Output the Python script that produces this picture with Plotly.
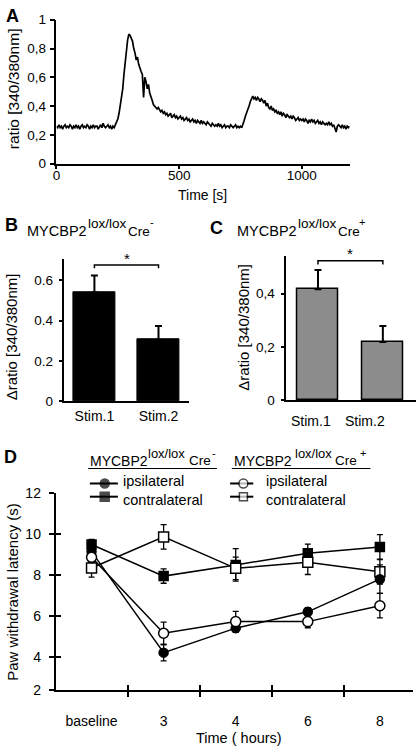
import plotly.graph_objects as go

W, H = 416, 753
FONT = "Liberation Sans, Arial, Helvetica, sans-serif"


def px(x):
    return x / W


def py(y):
    return 1 - y / H


# ---------------- Panel A: calcium trace ----------------
time_s = list(range(0, 1200, 5))
ratio = [
    0.26, 0.25, 0.27, 0.25, 0.26, 0.24, 0.26, 0.27, 0.25, 0.26,
    0.25, 0.27, 0.26, 0.24, 0.26, 0.25, 0.27, 0.25, 0.26, 0.24,
    0.26, 0.27, 0.25, 0.26, 0.25, 0.27, 0.26, 0.24, 0.26, 0.25,
    0.27, 0.25, 0.26, 0.26, 0.24, 0.26, 0.27, 0.25, 0.28, 0.26,
    0.25, 0.26, 0.27, 0.25, 0.26, 0.24, 0.26, 0.25, 0.27, 0.28,
    0.31, 0.35, 0.40, 0.47, 0.52, 0.62, 0.72, 0.80, 0.86, 0.90,
    0.89, 0.87, 0.85, 0.80, 0.77, 0.72, 0.74, 0.69, 0.66, 0.64,
    0.62, 0.46, 0.60, 0.57, 0.52, 0.55, 0.49, 0.47, 0.44, 0.41,
    0.40, 0.39, 0.38, 0.39, 0.37, 0.36, 0.37, 0.35, 0.36, 0.34,
    0.35, 0.33, 0.34, 0.35, 0.32, 0.33, 0.34, 0.32, 0.33, 0.31,
    0.32, 0.33, 0.31, 0.32, 0.30, 0.31, 0.32, 0.30, 0.31, 0.29,
    0.30, 0.31, 0.29, 0.30, 0.28, 0.30, 0.29, 0.28, 0.30, 0.28,
    0.29, 0.28, 0.27, 0.29, 0.28, 0.27, 0.26, 0.28, 0.27, 0.26,
    0.27, 0.26, 0.28, 0.26, 0.27, 0.25, 0.26, 0.27, 0.25, 0.26,
    0.26, 0.25, 0.27, 0.26, 0.25, 0.26, 0.27, 0.25, 0.26, 0.25,
    0.26, 0.25, 0.27, 0.30, 0.33, 0.35, 0.37, 0.40, 0.43, 0.45,
    0.47, 0.45, 0.46, 0.44, 0.46, 0.45, 0.43, 0.45, 0.44, 0.42,
    0.44, 0.40, 0.42, 0.39, 0.38, 0.40, 0.37, 0.38, 0.36, 0.37,
    0.35, 0.36, 0.34, 0.36, 0.33, 0.35, 0.34, 0.32, 0.34, 0.33,
    0.32, 0.33, 0.31, 0.33, 0.32, 0.30, 0.31, 0.32, 0.30, 0.31,
    0.30, 0.31, 0.29, 0.31, 0.30, 0.28, 0.30, 0.29, 0.31, 0.29,
    0.30, 0.28, 0.29, 0.30, 0.28, 0.29, 0.27, 0.29, 0.28, 0.27,
    0.28, 0.27, 0.29, 0.27, 0.28, 0.26, 0.27, 0.25, 0.22, 0.26,
    0.27, 0.26, 0.25, 0.27, 0.25, 0.26, 0.24, 0.26, 0.25, 0.26,
]
a_yticks = [0, 0.2, 0.4, 0.6, 0.8, 1.0]
a_yticktext = ["0", "0,2", "0,4", "0,6", "0,8", "1"]
a_xticks = [0, 500, 1000]

# ---------------- Panels B / C: delta ratio bars ----------------
stim_labels = ["Stim.1", "Stim.2"]
creneg_delta = [0.539, 0.305]
creneg_delta_err = [0.085, 0.068]
crepos_delta = [0.417, 0.218]
crepos_delta_err = [0.072, 0.060]
b_yticks = [0, 0.2, 0.4, 0.6]
b_yticktext = ["0", "0.2", "0.4", "0.6"]
c_yticks = [0, 0.2, 0.4]
c_yticktext = ["0", "0,2", "0,4"]

# ---------------- Panel D: paw withdrawal latency ----------------
time_labels = ["baseline", "3", "4", "6", "8"]
creneg_ipsi = [9.15, 4.2, 5.4, 6.2, 7.8]
creneg_ipsi_err = [0.3, 0.4, 0.2, 0.2, 0.7]
creneg_contra = [9.5, 7.95, 8.5, 9.07, 9.38]
creneg_contra_err = [0.25, 0.35, 0.8, 0.45, 0.6]
crepos_ipsi = [8.87, 5.15, 5.72, 5.72, 6.5]
crepos_ipsi_err = [0.25, 0.55, 0.5, 0.3, 0.6]
crepos_contra = [8.35, 9.87, 8.33, 8.63, 8.16]
crepos_contra_err = [0.45, 0.6, 0.55, 0.6, 0.6]
d_ybottom = 2.36
d_yticks = [d_ybottom, 4, 6, 8, 10, 12]
d_yticktext = ["2", "4", "6", "8", "10", "12"]
legend_labels = ["ipsilateral", "contralateral"]

fig = go.Figure()

# Panel A trace
fig.add_trace(go.Scatter(x=time_s, y=ratio, mode="lines",
                         line=dict(color="black", width=1.7),
                         xaxis="x", yaxis="y", showlegend=False))

# Panel B bars
xpos = list(range(len(stim_labels)))
fig.add_trace(go.Bar(x=xpos, y=creneg_delta, width=0.66,
                     marker=dict(color="black", line=dict(color="black", width=1)),
                     error_y=dict(type="data", symmetric=False, array=creneg_delta_err,
                                  arrayminus=[0] * len(xpos), color="black",
                                  thickness=2, width=3.5),
                     xaxis="x2", yaxis="y2", showlegend=False))

# Panel C bars
fig.add_trace(go.Bar(x=xpos, y=crepos_delta, width=0.64,
                     marker=dict(color="#8c8c8c", line=dict(color="black", width=1.5)),
                     error_y=dict(type="data", symmetric=False, array=crepos_delta_err,
                                  arrayminus=[0] * len(xpos), color="black",
                                  thickness=2, width=3.5),
                     xaxis="x3", yaxis="y3", showlegend=False))

# Panel D series
tpos = list(range(len(time_labels)))
series = [
    (creneg_contra, creneg_contra_err, "square", "black", 9),
    (crepos_contra, crepos_contra_err, "square", "white", 10),
    (creneg_ipsi, creneg_ipsi_err, "circle", "black", 9),
    (crepos_ipsi, crepos_ipsi_err, "circle", "white", 10),
]
for vals, errs, sym, fill, size in series:
    fig.add_trace(go.Scatter(
        x=tpos, y=vals, mode="lines+markers",
        line=dict(color="black", width=1.5),
        marker=dict(symbol=sym, size=size, color=fill,
                    line=dict(color="black", width=1.5)),
        error_y=dict(type="data", array=errs, color="black", thickness=1.3, width=3),
        xaxis="x4", yaxis="y4", showlegend=False))

# dummy trace for overlay tick axes
fig.add_trace(go.Scatter(x=[None], y=[None], xaxis="x5", yaxis="y5",
                         showlegend=False, hoverinfo="skip"))

# Legend symbols (drawn on a pixel-space helper axis)
leg_rows = [
    (86.7, 101.7, 115.0, 485.8, "circle", "black", 9),
    (86.7, 101.7, 115.0, 499.3, "square", "black", 9),
    (228.3, 241.7, 251.7, 485.8, "circle", "white", 9),
    (228.3, 241.7, 251.7, 499.3, "square", "white", 8),
]
for x0, xm, x1, yy, sym, fill, size in leg_rows:
    fig.add_trace(go.Scatter(
        x=[x0, xm, x1], y=[yy, yy, yy], mode="lines+markers",
        line=dict(color="black", width=2),
        marker=dict(symbol=sym, size=[0, size, 0], color=fill,
                    line=dict(color="black", width=[0, 1.5, 0])),
        xaxis="x6", yaxis="y6", showlegend=False, hoverinfo="skip"))

axis_common = dict(showline=True, linecolor="black", linewidth=1.5,
                   showgrid=False, zeroline=False, tickcolor="black",
                   tickwidth=1.5, tickfont=dict(family=FONT, size=13.5, color="black"))
f14 = dict(family=FONT, size=14, color="black")

layout = dict(
    width=W, height=H, margin=dict(l=0, r=0, t=0, b=0),
    paper_bgcolor="white", plot_bgcolor="rgba(0,0,0,0)",
    font=dict(family=FONT, color="black"),
    showlegend=False, bargap=0,
    xaxis=dict(domain=[px(53), px(349)], range=[0, 1195], anchor="y",
               tickvals=a_xticks, ticks="outside", ticklen=4,
               ticklabelstandoff=-6, **axis_common),
    yaxis=dict(domain=[py(159), py(12)], range=[0, 1], anchor="x",
               tickvals=a_yticks, ticktext=a_yticktext, ticks="outside",
               ticklen=5, ticklabelstandoff=1, **axis_common),
    xaxis2=dict(domain=[px(61), px(187)], range=[-0.468, 1.479], anchor="y2",
                tickvals=xpos, ticktext=stim_labels, ticks="",
                ticklabelstandoff=1, **{**axis_common, "tickfont": f14}),
    yaxis2=dict(domain=[py(401.8), py(256.7)], range=[0, 0.704], anchor="x2",
                tickvals=b_yticks, ticktext=b_yticktext, ticks="outside",
                ticklen=4, ticklabelstandoff=3, **axis_common),
    xaxis3=dict(domain=[px(285), 1.0], range=[-0.489, 1.511], anchor="y3",
                showticklabels=False, ticks="", **axis_common),
    yaxis3=dict(domain=[py(400.5), py(253.3)], range=[0, 0.542], anchor="x3",
                tickvals=c_yticks, ticktext=c_yticktext, ticks="outside",
                ticklen=4, ticklabelstandoff=3, **axis_common),
    xaxis4=dict(domain=[px(52), px(413)], range=[-0.5, 4.46], anchor="y4",
                tickvals=tpos, ticktext=time_labels, ticks="",
                ticklabelstandoff=17,
                minor=dict(tickvals=[0.5, 1.5, 2.5, 3.5], ticks="outside",
                           ticklen=5, tickwidth=1.5, tickcolor="black"),
                **{**axis_common, "tickfont": f14}),
    yaxis4=dict(domain=[py(697), py(496)], range=[d_ybottom, 12], anchor="x4",
                tickvals=d_yticks, ticktext=d_yticktext, ticks="outside",
                ticklen=5, ticklabelstandoff=5, **{**axis_common, "tickfont": f14}),
    xaxis5=dict(overlaying="x4", range=[-0.5, 4.46], anchor="y4",
                tickvals=[0.5, 1.5, 2.5, 3.5], ticks="inside", ticklen=5,
                tickwidth=1.5, tickcolor="black", showticklabels=False,
                showline=False, showgrid=False, zeroline=False),
    yaxis5=dict(overlaying="y4", range=[d_ybottom, 12], anchor="x5",
                tickvals=d_yticks, ticks="inside", ticklen=5,
                tickwidth=1.5, tickcolor="black", showticklabels=False,
                showline=False, showgrid=False, zeroline=False),
    xaxis6=dict(domain=[0, 1], range=[0, W], anchor="y6", visible=False, fixedrange=True),
    yaxis6=dict(domain=[0, 1], range=[H, 0], anchor="x6", visible=False, fixedrange=True),
)
fig.update_layout(**layout)

annotations = []


def note(text, x, y, size, xanchor="center", yanchor="middle", bold=False, angle=0):
    annotations.append(dict(
        text=("<b>%s</b>" % text) if bold else text,
        x=px(x), y=py(y), xref="paper", yref="paper",
        xanchor=xanchor, yanchor=yanchor, showarrow=False, textangle=angle,
        align="left", font=dict(family=FONT, size=size, color="black")))


# panel letters
note("A", 8.5, 8.5, 18, bold=True)
note("B", 8, 222, 18, bold=True)
note("C", 215, 225, 18, bold=True)
note("D", 7, 459, 18, bold=True)

# axis titles
note("ratio [340/380nm]", 9, 82, 15.5, angle=-90)
note("Time [s]", 200, 191, 14)
note("Δratio [340/380nm]", 7.5, 336, 15, angle=-90)
note("Δratio [340/380nm]", 241, 326, 15, angle=-90)
note("Paw withdrawal latency (s)", 9, 596.5, 15, angle=-90)
note("Time ( hours)", 237.5, 745.5, 14.5)

# panel B/C titles
note("MYCBP2", 20.7, 228, 14.5, xanchor="left")
note("lox/lox", 83, 220, 13.5, xanchor="left")
note("Cre", 123.3, 228, 13.5, xanchor="left")
note("-", 145, 219, 11, xanchor="left")

note("MYCBP2", 233.3, 228, 14.5, xanchor="left")
note("lox/lox", 295, 220, 13.5, xanchor="left")
note("Cre", 335, 228, 13.5, xanchor="left")
note("+", 356.5, 219, 11, xanchor="left")

# panel C stim labels (offset from bar centres in the original)
note(stim_labels[0], 310, 422, 14)
note(stim_labels[1], 364, 422, 14)

# significance stars
note("*", 124, 256, 15)
note("*", 349, 251, 15)

# panel D legend headers
note("MYCBP2", 85, 462.5, 14, xanchor="left")
note("lox/lox", 143.3, 455.5, 13, xanchor="left")
note("Cre", 185, 462.5, 13.5, xanchor="left")
note("-", 208.5, 455, 11, xanchor="left")
note("MYCBP2", 230, 462.5, 14, xanchor="left")
note("lox/lox", 291.7, 455.5, 13, xanchor="left")
note("Cre", 331.7, 462.5, 13.5, xanchor="left")
note("+", 357, 455, 11, xanchor="left")

# legend labels (two lines in one text block)
note("<br>".join(legend_labels), 118, 492.6, 14.5, xanchor="left")
note("<br>".join(legend_labels), 263, 492.6, 14.5, xanchor="left")

fig.update_layout(annotations=annotations)

shapes = [
    # underline of legend headers
    dict(type="line", xref="paper", yref="paper", x0=px(85), x1=px(215),
         y0=py(470.5), y1=py(470.5), line=dict(color="black", width=1)),
    dict(type="line", xref="paper", yref="paper", x0=px(230), x1=px(370),
         y0=py(470.5), y1=py(470.5), line=dict(color="black", width=1)),
    # significance brackets
    dict(type="path", xref="x2", yref="y2",
         path="M 0 0.659 L 0 0.675 L 1 0.675 L 1 0.659",
         line=dict(color="black", width=1.5)),
    dict(type="path", xref="x3", yref="y3",
         path="M 0 0.51 L 0 0.524 L 1 0.524 L 1 0.51",
         line=dict(color="black", width=1.5)),
]
fig.update_layout(shapes=shapes)

fig.write_html("out.html", config={"displayModeBar": False},
               post_script="document.body.style.margin='0px';")
